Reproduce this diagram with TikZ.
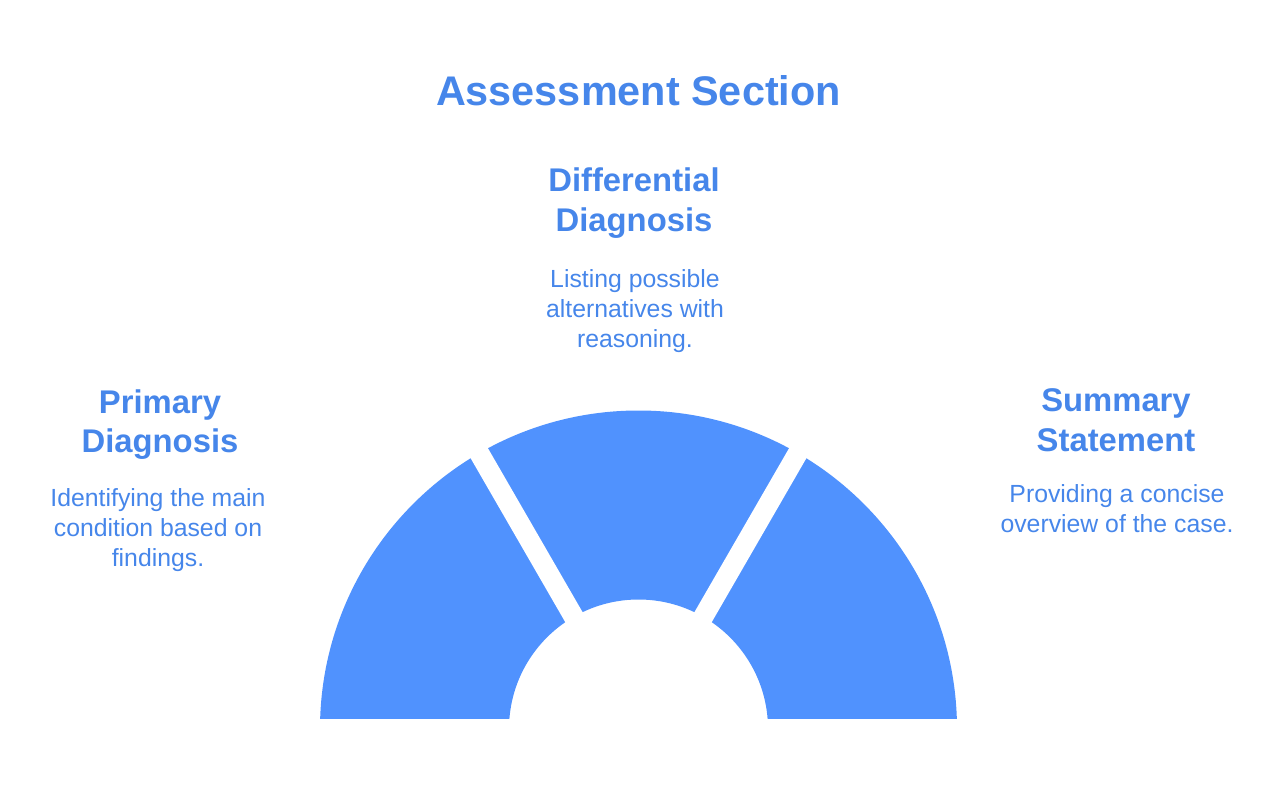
\documentclass[tikz,border=0pt]{standalone}
\usepackage{fontspec}
\setmainfont{Liberation Sans}
\usetikzlibrary{positioning}
\definecolor{segblue}{RGB}{80,146,254}
\definecolor{txtblue}{RGB}{70,134,234}
\tikzset{
    title/.style={
    inner sep=0pt,
    anchor=north,
    text=txtblue,
    font=\fontsize{41.4}{49}\selectfont\bfseries
    },
    head/.style={
    inner sep=0pt,
    anchor=north,
    align=center,
    text=txtblue,
    font=\fontsize{32.8}{39.5}\selectfont\bfseries
    },
    body/.style={
    inner sep=0pt,
    anchor=north,
    align=center,
    text=txtblue,
    font=\fontsize{24.8}{30}\selectfont
    }
}

\begin{document}
\begin{tikzpicture}[x=1pt,y=-1pt]
\useasboundingbox (0,0) rectangle (1288,800);

% half ring
\coordinate (c) at (638.5,729);
\begin{scope}
\clip (0,0) rectangle (1288,718);
\fill[segblue,even odd rule] (c) circle (318.5) (c) circle (129.5);
\draw[white,line width=20pt] (c) -- ++(-60:340);
\draw[white,line width=20pt] (c) -- ++(-120:340);
\end{scope}

\node[title] (ttl) at (638.5,75) {Assessment Section};

\node[head] (h0) at (160,389.5) {Primary\\Diagnosis};
\node[body] (b0) at (158,488.5) {Identifying the main\\condition based on\\findings.};

\node[head] (h1) at (634,168) {Differential\\Diagnosis};
\node[body] (b1) at (635,269.5) {Listing possible\\alternatives with\\reasoning.};

\node[head] (h2) at (1116,388.5) {Summary\\Statement};
\node[body] (b2) at (1117,484.5) {Providing a concise\\overview of the case.};

\end{tikzpicture}
\end{document}
